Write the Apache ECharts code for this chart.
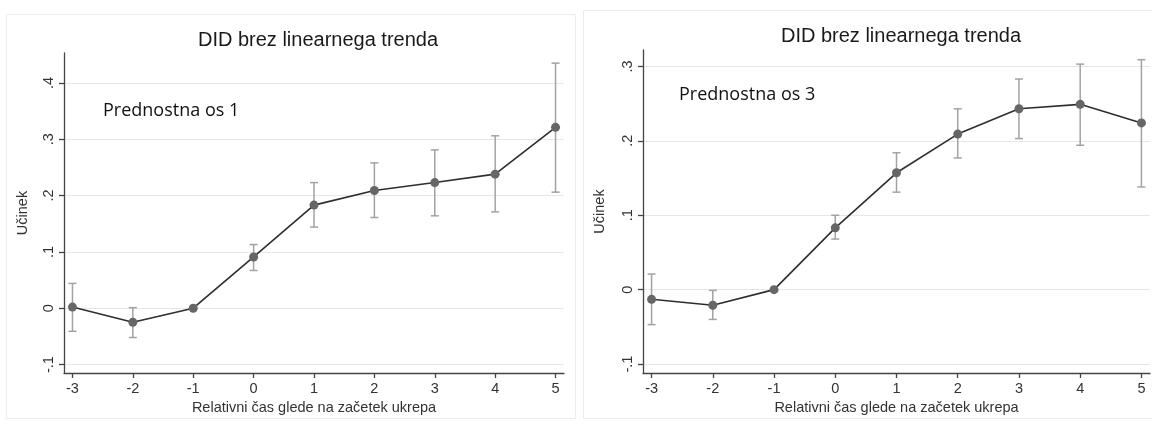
<!DOCTYPE html>
<html>
<head>
<meta charset="utf-8">
<script src="https://cdn.jsdelivr.net/npm/echarts@6/dist/echarts.min.js"></script>
<style>
  html, body { margin: 0; padding: 0; background: #fff; }
  #chart { width: 1152px; height: 423px; }
</style>
</head>
<body>
<div id="chart"></div>
<script>
// relative time to start of measure
const periods = [-3, -2, -1, 0, 1, 2, 3, 4, 5];

// Prednostna os 1
const os1Est = [0.002, -0.025, 0, 0.091, 0.183, 0.209, 0.223, 0.238, 0.321];
const os1Lo = [-0.041, -0.052, 0, 0.067, 0.144, 0.161, 0.164, 0.171, 0.206];
const os1Hi = [0.044, 0.001, 0, 0.113, 0.223, 0.258, 0.281, 0.306, 0.435];

// Prednostna os 3
const os3Est = [-0.013, -0.021, 0, 0.083, 0.157, 0.209, 0.243, 0.249, 0.224];
const os3Lo = [-0.047, -0.040, 0, 0.068, 0.131, 0.177, 0.203, 0.194, 0.138];
const os3Hi = [0.021, -0.001, 0, 0.100, 0.184, 0.243, 0.283, 0.303, 0.309];

const xTicks = [-3, -2, -1, 0, 1, 2, 3, 4, 5];
const yTicks1 = [-0.1, 0, 0.1, 0.2, 0.3, 0.4];
const yTicks3 = [-0.1, 0, 0.1, 0.2, 0.3];

const chartTitle = 'DID brez linearnega trenda';
const xName = 'Relativni čas glede na začetek ukrepa';
const yName = 'Učinek';

const font = 'Liberation Sans, Arial, sans-serif';
const axisColor = '#444';

function stataNum(v) {
  if (Math.abs(v) < 1e-9) return '0';
  return String(Math.round(v * 10) / 10).replace(/^(-?)0\./, '$1.');
}

function renderErrorBar(params, api) {
  const x = api.value(0), lo = api.value(1), hi = api.value(2);
  if (lo === hi) return;
  const top = api.coord([x, hi]);
  const bot = api.coord([x, lo]);
  const cap = 4;
  const style = { stroke: '#a2a2a2', lineWidth: 1.5 };
  return {
    type: 'group',
    children: [
      { type: 'line', shape: { x1: top[0], y1: top[1], x2: bot[0], y2: bot[1] }, style },
      { type: 'line', shape: { x1: top[0] - cap, y1: top[1], x2: top[0] + cap, y2: top[1] }, style },
      { type: 'line', shape: { x1: bot[0] - cap, y1: bot[1], x2: bot[0] + cap, y2: bot[1] }, style }
    ]
  };
}

function xAxisFor(idx, min, max) {
  return {
    type: 'value', gridIndex: idx, min, max,
    name: xName, nameLocation: 'middle', nameGap: 21,
    nameTextStyle: { color: '#333', fontSize: 14.5, fontFamily: font },
    axisLine: { onZero: false, lineStyle: { color: axisColor, width: 1.3 } },
    axisTick: { customValues: xTicks, length: 5, lineStyle: { color: axisColor, width: 1.3 } },
    axisLabel: { customValues: xTicks, color: '#333', fontSize: 14.5, fontFamily: font, margin: 8 },
    splitLine: { show: false }
  };
}

function yAxisFor(idx, min, max, ticks, gap) {
  return {
    type: 'value', gridIndex: idx, min, max,
    name: yName, nameLocation: 'middle', nameGap: gap, nameRotate: 90,
    nameTextStyle: { color: '#333', fontSize: 14.5, fontFamily: font },
    axisLine: { onZero: false, lineStyle: { color: axisColor, width: 1.3 } },
    axisTick: { customValues: ticks, length: 5, lineStyle: { color: axisColor, width: 1.3 } },
    axisLabel: {
      customValues: ticks, rotate: 90, color: '#333', fontSize: 14.5, fontFamily: font, margin: 8,
      formatter: stataNum
    },
    splitLine: { show: true, lineStyle: { color: '#e6e6e6', width: 1 } }
  };
}

function seriesFor(idx, est, lo, hi) {
  return [
    {
      type: 'custom', xAxisIndex: idx, yAxisIndex: idx,
      renderItem: renderErrorBar,
      data: periods.map((p, i) => [p, lo[i], hi[i]]),
      z: 2, silent: true
    },
    {
      type: 'line', xAxisIndex: idx, yAxisIndex: idx,
      data: periods.map((p, i) => [p, est[i]]),
      symbol: 'circle', symbolSize: 9,
      itemStyle: { color: '#666' },
      lineStyle: { color: '#2e2e2e', width: 1.6 },
      z: 3, silent: true, clip: false
    }
  ];
}

const chart = echarts.init(document.getElementById('chart'));
chart.setOption({
  animation: false,
  backgroundColor: '#fff',
  graphic: [
    { type: 'rect', shape: { x: 6.5, y: 14.5, width: 569, height: 404 }, style: { fill: 'none', stroke: '#ececec', lineWidth: 1 }, z: -1 },
    { type: 'rect', shape: { x: 583.5, y: 10.5, width: 580, height: 408 }, style: { fill: 'none', stroke: '#ececec', lineWidth: 1 }, z: -1 }
  ],
  title: [
    { text: chartTitle, left: 313, top: 25, textAlign: 'center',
      textStyle: { fontSize: 20, fontWeight: 'normal', color: '#1a1a1a', fontFamily: font } },
    { text: chartTitle, left: 896, top: 21, textAlign: 'center',
      textStyle: { fontSize: 20, fontWeight: 'normal', color: '#1a1a1a', fontFamily: font } },
    { text: 'Prednostna os 1', left: 98, top: 97,
      textStyle: { fontSize: 18, fontWeight: 'normal', color: '#111', fontFamily: 'Open Sans, sans-serif' } },
    { text: 'Prednostna os 3', left: 674, top: 81,
      textStyle: { fontSize: 18, fontWeight: 'normal', color: '#111', fontFamily: 'Open Sans, sans-serif' } }
  ],
  grid: [
    { left: 64, top: 53, width: 500, height: 320 },
    { left: 643, top: 50, width: 507, height: 323 }
  ],
  xAxis: [xAxisFor(0, -3.14, 5.14), xAxisFor(1, -3.14, 5.14)],
  yAxis: [yAxisFor(0, -0.115, 0.453, yTicks1, 34), yAxisFor(1, -0.112, 0.322, yTicks3, 36)],
  series: [].concat(seriesFor(0, os1Est, os1Lo, os1Hi), seriesFor(1, os3Est, os3Lo, os3Hi))
});
</script>
</body>
</html>
